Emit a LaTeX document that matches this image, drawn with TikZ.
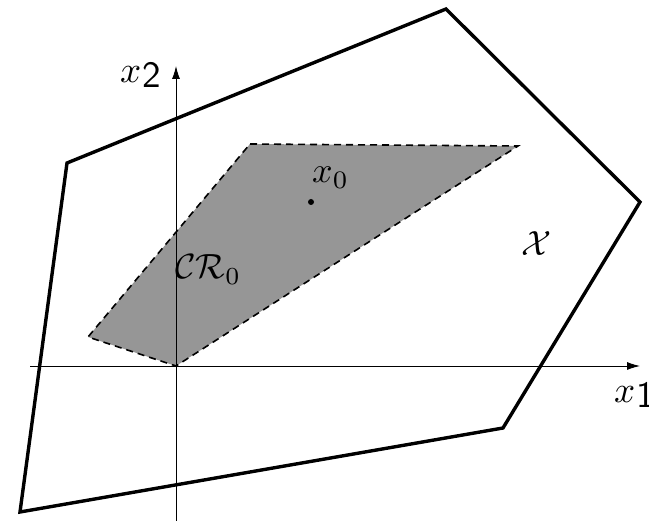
\documentclass[tikz,border=0pt]{standalone}
\usetikzlibrary{arrows.meta}
\definecolor{regiongray}{RGB}{150,150,150}
\tikzset{
  outer/.style={line width=3.4pt, line join=miter},
  axis/.style={line width=0.9pt, -{Latex[length=13pt,width=8pt]}},
  region/.style={fill=regiongray, draw=black, line width=1.6pt, dash pattern=on 7pt off 5pt},
  lbl/.style={inner sep=0pt}
}
\begin{document}
\begin{tikzpicture}[x=1pt,y=-1pt]
\useasboundingbox (0,0) rectangle (649,521);
% outer polygon
\coordinate (p1) at (446,9);
\coordinate (p2) at (640,202);
\coordinate (p3) at (503,428);
\coordinate (p4) at (20,512);
\coordinate (p5) at (67,163);
\draw[outer] (p1) -- (p2) -- (p3) -- (p4) -- (p5) -- cycle;
% region
\coordinate (r1) at (250,144);
\coordinate (r2) at (518,146);
\coordinate (r3) at (176,366);
\coordinate (r4) at (88,337);
\draw[region] (r1) -- (r2) -- (r3) -- (r4) -- cycle;
% axes
\coordinate (xs) at (30,366);
\coordinate (xe) at (640,366);
\coordinate (ys) at (176,521);
\coordinate (ye) at (176,66);
\draw[axis] (xs) -- (xe);
\draw[axis] (ys) -- (ye);
% labels
\node[lbl, anchor=base west] (lx2) at (120,83) {\scalebox{3.7}{$x$\kern0.2pt\raisebox{-1.3pt}{\sffamily 2}}};
\node[lbl, anchor=base west] (lx1) at (614,403) {\scalebox{3.7}{$x$\kern0.2pt\raisebox{-1.3pt}{\sffamily 1}}};
\node[lbl, anchor=base west] (lx0) at (312,183) {\scalebox{3.6}{$x_{0}$}};
\fill (311,202) circle (3pt) node[lbl] (dot) {};
\node[lbl, anchor=base west] (lcr) at (175,279) {\scalebox{3.5}{$\mathcal{C}\mathcal{R}_0$}};
\node[lbl] (lX) at (537,244) {\scalebox{3.5}{$\mathcal{X}$}};
\end{tikzpicture}
\end{document}
